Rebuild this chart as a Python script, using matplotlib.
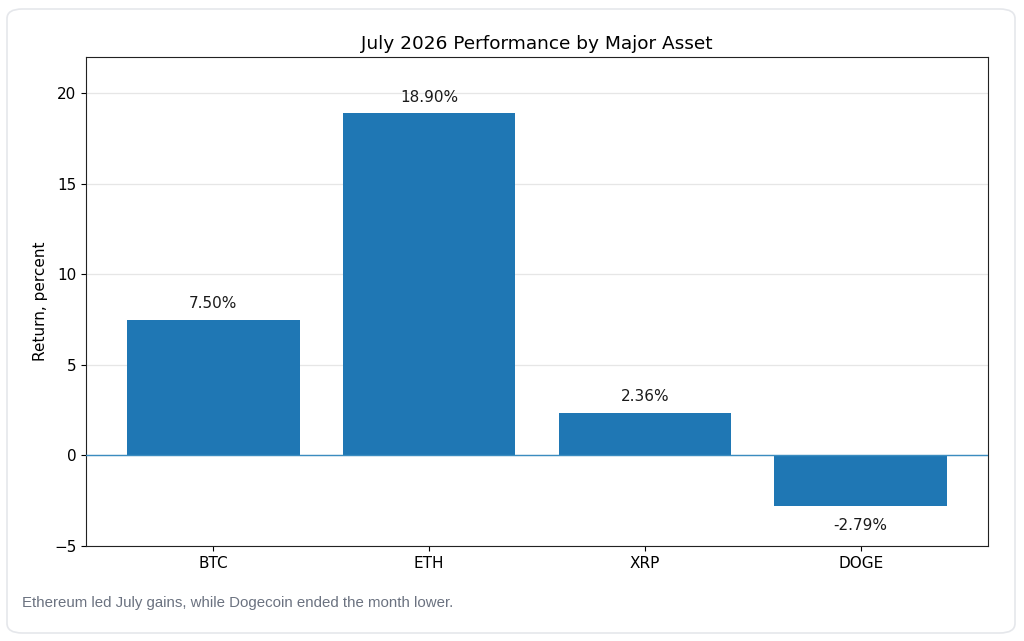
import matplotlib.pyplot as plt
from matplotlib.patches import FancyBboxPatch

assets = ["BTC", "ETH", "XRP", "DOGE"]
returns = [7.50, 18.90, 2.36, -2.79]
y_ticks = [-5, 0, 5, 10, 15, 20]

W, H = 1024, 641
fig = plt.figure(figsize=(W / 100, H / 100), dpi=100)
fig.patch.set_facecolor("white")

# card frame around the chart
card = FancyBboxPatch((7 / W, 8 / H), 1008 / W, 624 / H,
                      boxstyle="round,pad=0,rounding_size=0.015",
                      transform=fig.transFigure, facecolor="white",
                      edgecolor="#e5e7eb", linewidth=1.2, zorder=-1)
fig.patches.append(card)

ax = fig.add_axes([86 / W, 1 - 546 / H, (988 - 86) / W, (546 - 57) / H])
ax.grid(axis="y", color="#e6e6e6", linewidth=0.9)
ax.set_axisbelow(True)
bars = ax.bar(assets, returns, color="#1f77b4", width=0.8, zorder=2)
ax.axhline(0, color="#3a8cc0", linewidth=1.0, zorder=3)

for rect, v in zip(bars, returns):
    x = rect.get_x() + rect.get_width() / 2
    if v >= 0:
        ax.annotate(f"{v:.2f}%", (x, v), xytext=(0, 6), textcoords="offset points",
                    ha="center", va="bottom", fontsize=11, color="#1a1a1a")
    else:
        ax.annotate(f"{v:.2f}%", (x, v), xytext=(0, -9), textcoords="offset points",
                    ha="center", va="top", fontsize=11, color="#1a1a1a")

ax.set_ylim(-5, 22)
ax.set_yticks(y_ticks)
ax.set_title("July 2026 Performance by Major Asset", fontsize=13.3, pad=6)
ax.set_ylabel("Return, percent", fontsize=11)
ax.tick_params(labelsize=11)
for s in ax.spines.values():
    s.set_color("#222222")

fig.text(22 / W, 1 - 603 / H, "Ethereum led July gains, while Dogecoin ended the month lower.",
         fontsize=10.8, color="#6b7280", family="Liberation Sans", va="center")

fig.savefig("out.png", dpi=100)
